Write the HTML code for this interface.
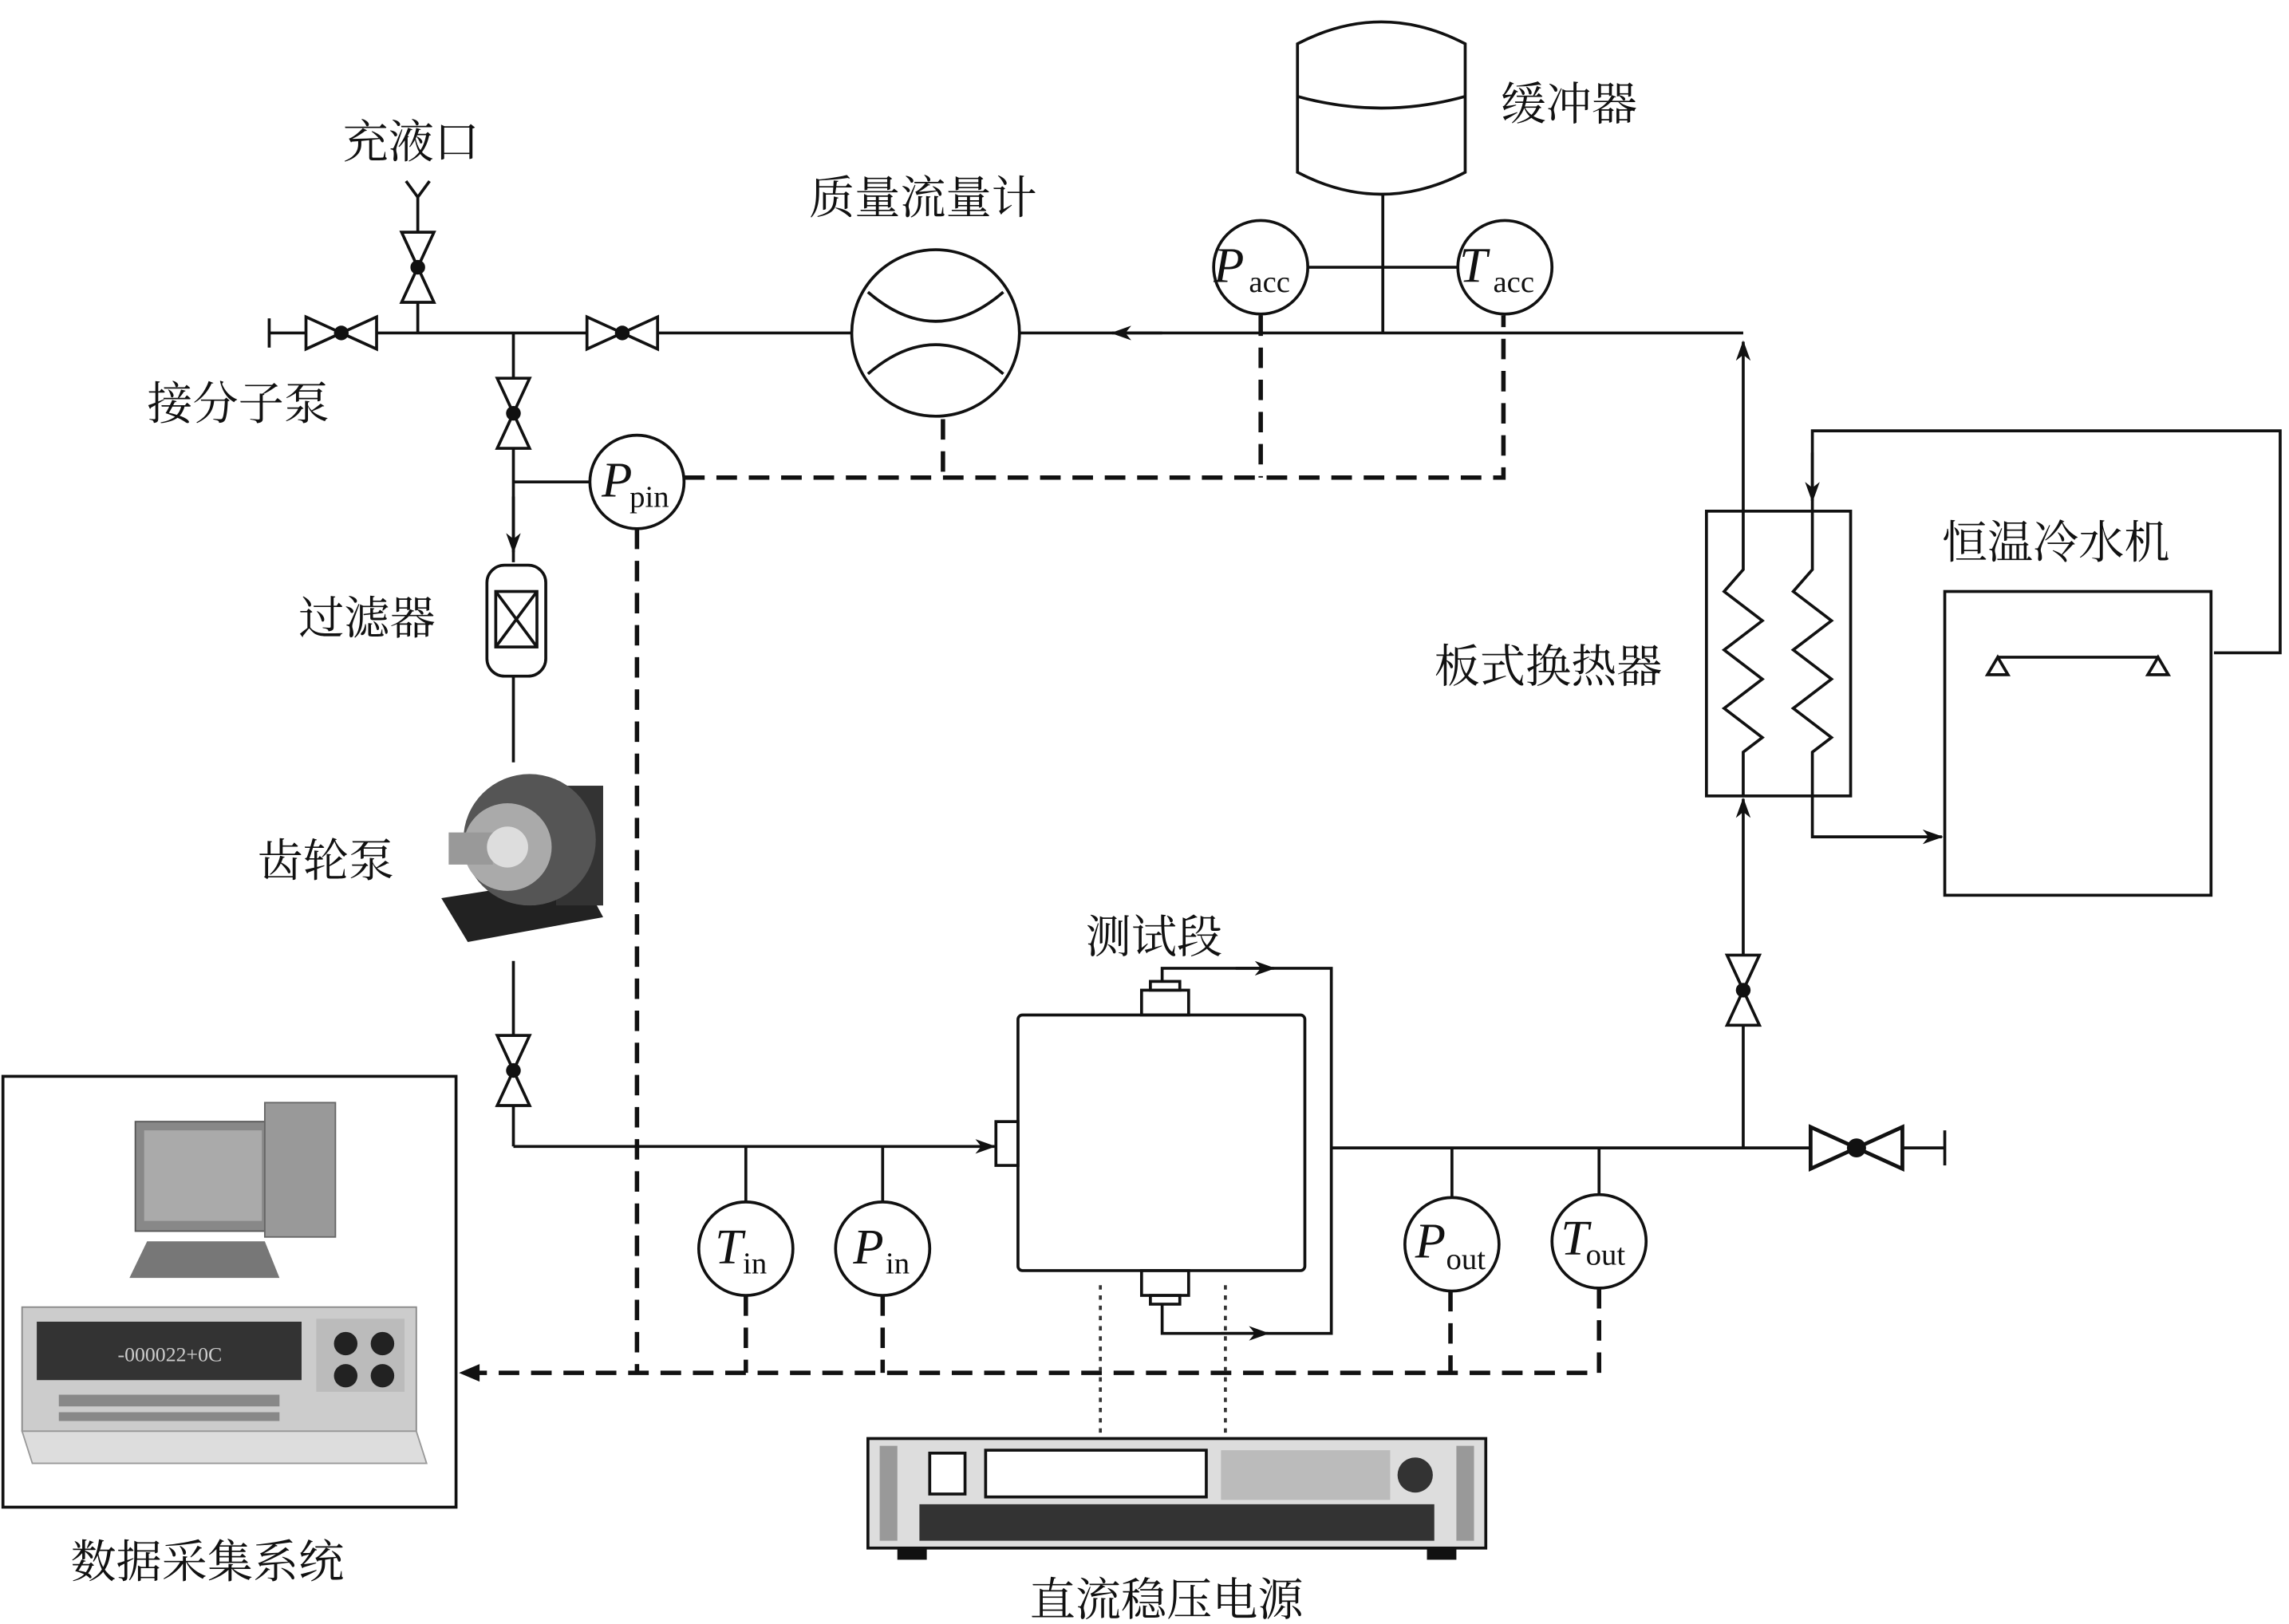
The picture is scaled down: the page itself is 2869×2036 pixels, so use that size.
<!DOCTYPE html>
<html><head><meta charset="utf-8"><style>
html,body{margin:0;padding:0;background:#fff}
svg{display:block}
text{font-family:"Liberation Serif","Noto Serif CJK SC","Noto Sans CJK SC",serif;fill:#111}
.l{font-size:31px}
</style></head><body>
<svg width="2869" height="2036" viewBox="0 0 1556 1112" preserveAspectRatio="none" xmlns="http://www.w3.org/2000/svg">
<defs>
<g id="vh"><polygon points="-24,-11 0,0 -24,11" fill="#fff" stroke="#111" stroke-width="2"/><polygon points="24,-11 0,0 24,11" fill="#fff" stroke="#111" stroke-width="2"/><circle r="5" fill="#111"/></g>
<marker id="ar" markerWidth="14" markerHeight="10" refX="13" refY="5" orient="auto" markerUnits="userSpaceOnUse"><path d="M0,0 L14,5 L0,10 L4,5Z" fill="#111"/></marker>
</defs>
<g fill="none" stroke="#111" stroke-width="2">
<path d="M882,30 Q939,0 996,30 L996,118 Q939,148 882,118 Z"/>
<path d="M882,66 Q939,82 996,66"/>
<line x1="940" y1="133" x2="940" y2="228"/>
<line x1="889" y1="183" x2="991" y2="183"/>
<circle cx="857" cy="183" r="32" fill="#fff"/>
<circle cx="1023" cy="183" r="32" fill="#fff"/>
<line x1="183" y1="228" x2="580" y2="228"/>
<line x1="183" y1="218" x2="183" y2="238"/>
<line x1="1185" y1="228" x2="693" y2="228"/>
<line x1="790" y1="228" x2="756" y2="228" marker-end="url(#ar)"/>
<line x1="1185" y1="350" x2="1185" y2="234" marker-end="url(#ar)"/>
<circle cx="636" cy="228" r="57" fill="#fff"/>
<path d="M590,200 Q636,240 682,200"/>
<path d="M590,256 Q636,216 682,256"/>
<line x1="284" y1="228" x2="284" y2="135"/>
<path d="M276,124 L284,135 L292,124"/>
<line x1="349" y1="228" x2="349" y2="385"/>
<line x1="349" y1="340" x2="349" y2="378" marker-end="url(#ar)"/>
<line x1="349" y1="330" x2="401" y2="330"/>
<circle cx="433" cy="330" r="32" fill="#fff"/>
<rect x="331" y="387" width="40" height="76" rx="12" fill="#fff"/>
<rect x="337" y="405" width="28" height="38"/>
<path d="M337,405 L365,443 M365,405 L337,443"/>
<line x1="349" y1="463" x2="349" y2="522"/>
<line x1="349" y1="658" x2="349" y2="785"/>
<line x1="349" y1="785" x2="676" y2="785" marker-end="url(#ar)"/>
<rect x="692" y="695" width="195" height="175" rx="3"/>
<rect x="677" y="768" width="15" height="30"/>
<rect x="776" y="678" width="32" height="17"/><rect x="782" y="672" width="20" height="6"/>
<rect x="776" y="870" width="32" height="17"/><rect x="782" y="887" width="20" height="6"/>
<path d="M790,672 L790,663 L905,663 L905,913 L790,913 L790,893"/>
<line x1="840" y1="663" x2="866" y2="663" marker-end="url(#ar)"/>
<line x1="830" y1="913" x2="862" y2="913" marker-end="url(#ar)"/>
<line x1="905" y1="786" x2="1322" y2="786"/>
<line x1="1322" y1="774" x2="1322" y2="798"/>
<line x1="1185" y1="786" x2="1185" y2="547" marker-end="url(#ar)"/>
<line x1="507" y1="785" x2="507" y2="823"/><circle cx="507" cy="855" r="32" fill="#fff"/>
<line x1="600" y1="785" x2="600" y2="823"/><circle cx="600" cy="855" r="32" fill="#fff"/>
<line x1="987" y1="786" x2="987" y2="820"/><circle cx="987" cy="852" r="32" fill="#fff"/>
<line x1="1087" y1="786" x2="1087" y2="818"/><circle cx="1087" cy="850" r="32" fill="#fff"/>
<rect x="1160" y="350" width="98" height="195"/>
<path d="M1185,350 L1185,390 L1172,405 L1198,425 L1172,445 L1198,465 L1172,485 L1198,505 L1185,515 L1185,545"/>
<path d="M1232,350 L1232,390 L1219,405 L1245,425 L1219,445 L1245,465 L1219,485 L1245,505 L1232,515 L1232,545"/>
<path d="M1505,447 L1550,447 L1550,295 L1232,295 L1232,350"/>
<line x1="1232" y1="310" x2="1232" y2="343" marker-end="url(#ar)"/>
<path d="M1232,545 L1232,573 L1320,573" marker-end="url(#ar)"/>
<rect x="1322" y="405" width="181" height="208"/>
<line x1="1358" y1="450" x2="1467" y2="450"/>
<polygon points="1358,450 1351,462 1365,462"/><polygon points="1467,450 1460,462 1474,462"/>
<rect x="2" y="737" width="308" height="295"/>
</g>
<use href="#vh" x="232" y="228"/>
<use href="#vh" x="423" y="228"/>
<use href="#vh" transform="translate(284,183) rotate(90)"/>
<use href="#vh" transform="translate(349,283) rotate(90)"/>
<use href="#vh" transform="translate(349,733) rotate(90)"/>
<use href="#vh" transform="translate(1185,678) rotate(90)"/>
<g transform="translate(1262,786) scale(1.3)"><use href="#vh"/></g>
<g fill="none" stroke="#111" stroke-width="3" stroke-dasharray="14,8">
<path d="M465,327 L1022,327 L1022,216"/>
<path d="M641,287 L641,327"/>
<path d="M857,216 L857,327"/>
<path d="M433,362 L433,940"/>
<path d="M1087,882 L1087,940 L322,940"/>
<path d="M507,887 L507,940 M600,887 L600,940 M986,884 L986,940"/>
</g>
<path d="M312,940 L326,934 L326,946Z" fill="#111"/>
<g stroke="#333" stroke-width="2" stroke-dasharray="3,4">
<line x1="748" y1="880" x2="748" y2="985"/><line x1="833" y1="880" x2="833" y2="985"/>
</g>
<g>
<polygon points="300,615 395,600 410,628 318,645" fill="#222"/>
<rect x="378" y="538" width="32" height="82" fill="#333"/>
<ellipse cx="360" cy="575" rx="45" ry="45" fill="#555"/>
<ellipse cx="345" cy="580" rx="30" ry="30" fill="#aaa"/>
<rect x="305" y="570" width="30" height="22" fill="#999"/>
<ellipse cx="345" cy="580" rx="14" ry="14" fill="#ddd"/>
</g>
<g>
<rect x="92" y="768" width="92" height="75" fill="#888" stroke="#555"/>
<rect x="98" y="774" width="80" height="62" fill="#aaa"/>
<rect x="180" y="755" width="48" height="92" fill="#999" stroke="#666"/>
<polygon points="100,850 180,850 190,875 88,875" fill="#777"/>
<rect x="15" y="895" width="268" height="85" fill="#ccc" stroke="#888"/>
<rect x="25" y="905" width="180" height="40" fill="#333"/>
<text x="80" y="932" font-size="14" style="fill:#ccc">-000022+0C</text>
<rect x="215" y="903" width="60" height="50" fill="#bbb"/>
<circle cx="235" cy="920" r="8" fill="#222"/><circle cx="260" cy="920" r="8" fill="#222"/>
<circle cx="235" cy="942" r="8" fill="#222"/><circle cx="260" cy="942" r="8" fill="#222"/>
<g fill="#888"><rect x="40" y="955" width="150" height="8"/><rect x="40" y="967" width="150" height="6"/></g>
<polygon points="15,980 283,980 290,1002 22,1002" fill="#ddd" stroke="#999"/>
</g>
<g>
<rect x="590" y="985" width="420" height="75" fill="#ddd" stroke="#111" stroke-width="2"/>
<rect x="598" y="990" width="12" height="65" fill="#999"/><rect x="990" y="990" width="12" height="65" fill="#999"/>
<rect x="632" y="995" width="24" height="28" fill="#fff" stroke="#111" stroke-width="2"/>
<rect x="670" y="993" width="150" height="32" fill="#fff" stroke="#111" stroke-width="2"/>
<rect x="830" y="993" width="115" height="34" fill="#bbb"/>
<circle cx="962" cy="1010" r="12" fill="#333"/>
<rect x="625" y="1030" width="350" height="25" fill="#333"/>
<rect x="610" y="1060" width="20" height="8" fill="#111"/><rect x="970" y="1060" width="20" height="8" fill="#111"/>
</g>
<text class="l" x="1020" y="82">缓冲器</text>
<text class="l" x="233" y="108">充液口</text>
<text class="l" x="550" y="146">质量流量计</text>
<text class="l" x="100" y="287">接分子泵</text>
<text class="l" x="203" y="434">过滤器</text>
<text class="l" x="175" y="600">齿轮泵</text>
<text class="l" x="738" y="652">测试段</text>
<text class="l" x="1320" y="382">恒温冷水机</text>
<text class="l" x="975" y="467">板式换热器</text>
<text class="l" x="48" y="1080">数据采集系统</text>
<text class="l" x="700" y="1106">直流稳压电源</text>
<g font-size="34">
<text x="825" y="193" font-style="italic">P</text><text x="992" y="193" font-style="italic">T</text>
<text x="409" y="340" font-style="italic">P</text>
<text x="486" y="865" font-style="italic">T</text><text x="580" y="865" font-style="italic">P</text>
<text x="962" y="861" font-style="italic">P</text><text x="1061" y="859" font-style="italic">T</text>
</g>
<g font-size="21">
<text x="849" y="200">acc</text><text x="1015" y="200">acc</text>
<text x="428" y="347">pin</text>
<text x="505" y="872">in</text><text x="602" y="872">in</text>
<text x="983" y="869">out</text><text x="1078" y="866">out</text>
</g>
</svg>
</body></html>
